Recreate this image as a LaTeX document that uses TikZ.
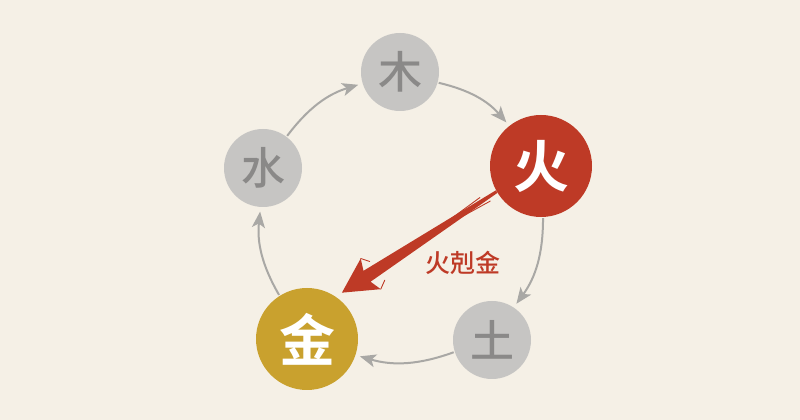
\documentclass[tikz,border=0pt]{standalone}
\usepackage{fontspec}
\newfontfamily\cjk{Noto Sans CJK SC Medium}
\newfontfamily\cjkbold{Noto Sans CJK SC Bold}
\usetikzlibrary{arrows.meta,calc}
\definecolor{paper}{HTML}{F5F0E6}
\definecolor{ashgray}{HTML}{C6C5C3}
\definecolor{inkgray}{HTML}{8A8988}
\definecolor{linegray}{HTML}{A9A8A5}
\definecolor{firered}{HTML}{BE3A26}
\definecolor{metalgold}{HTML}{C9A12E}
\tikzset{
  elem/.style={circle, minimum size=78pt, inner sep=0pt, fill=ashgray, text=inkgray,
    font=\cjk\fontsize{44}{44}\selectfont},
  hot/.style={minimum size=102pt, text=white, font=\cjkbold\fontsize{56}{56}\selectfont},
  cyc/.style={draw=linegray, line width=2pt, -{Stealth[length=16pt,width=13pt,inset=4pt]},
    shorten <=1pt, shorten >=4.5pt, bend left=18},
  streak/.style={firered, line width=0.9pt, line cap=round},
}
\begin{document}
\begin{tikzpicture}[x=1pt,y=1pt]
\fill[paper] (0,0) rectangle (800,420);
\node[elem] (wood) at (400,348) {木};
\node[elem, hot, fill=firered] (fire) at (541,254) {火};
\node[elem] (earth) at (492,80) {土};
\node[elem, hot, fill=metalgold] (metal) at (307,81) {金};
\node[elem] (water) at (263,252) {水};
\draw[cyc] (water) to (wood);
\draw[cyc] (wood) to (fire);
\draw[cyc] (fire) to (earth);
\draw[cyc] (earth) to (metal);
\draw[cyc] (metal) to (water);
\coordinate (kstart) at (fire.210);
\coordinate (ktip) at ($(metal.center)+(53:58)$);
\coordinate (kbase) at ($(ktip)!30pt!(kstart)$);
\fill[firered] ($(kstart)!1.5pt!90:(ktip)$) -- ($(kbase)!6.5pt!-90:(kstart)$)
  -- ($(ktip)!39pt!-28:(kstart)$) -- (ktip) -- ($(ktip)!39pt!28:(kstart)$)
  -- ($(kbase)!6.5pt!90:(kstart)$) -- ($(kstart)!1.5pt!-90:(ktip)$) -- cycle;
\draw[streak] ($(kstart)!20pt!(ktip)$) ++(0,5) -- ($(kstart)!95pt!(ktip)$);
\draw[streak] ($(kstart)!10pt!(ktip)$) ++(2,-4) -- ($(kstart)!70pt!(ktip)$);
\draw[streak] ($(ktip)!39pt!-28:(kstart)$) -- ++(4,9);
\draw[streak] ($(ktip)!39pt!28:(kstart)$) -- ++(9,-3);
\node[text=firered, font=\cjk\fontsize{25}{25}\selectfont] (kelabel) at (463,157) {火剋金};
\end{tikzpicture}
\end{document}
